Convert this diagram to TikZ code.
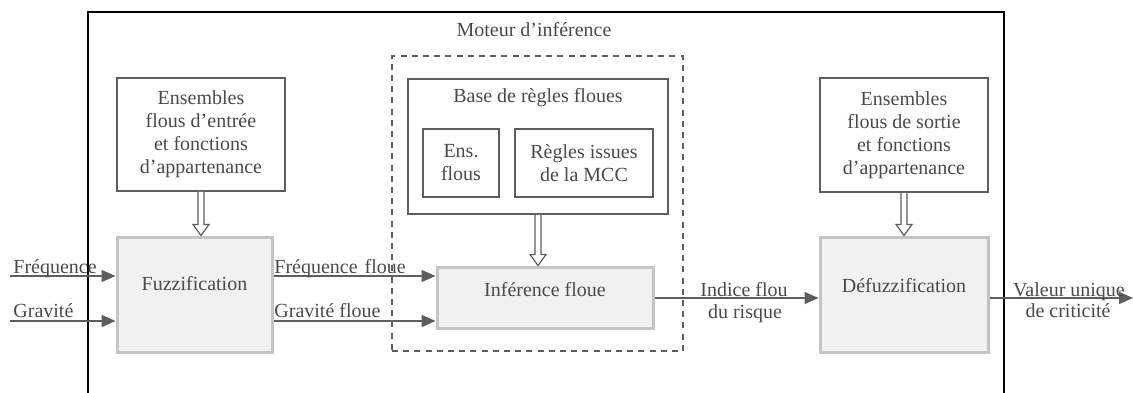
\documentclass[tikz,border=0pt]{standalone}
\usepackage{fontspec}
\setmainfont{Liberation Serif}
\usetikzlibrary{arrows.meta,calc}
\definecolor{txtc}{HTML}{4A4A4A}
\definecolor{linec}{HTML}{5E5E5E}
\definecolor{grayb}{HTML}{C4C4C4}
\definecolor{grayf}{HTML}{F1F1F1}
\newcommand{\hollowarrow}[2]{%
  \draw[hollow] ($(#1)+(-3,0)$) -- ($(#2)+(-3,-11)$) -- ($(#2)+(-8,-11)$) -- (#2)
    -- ($(#2)+(8,-11)$) -- ($(#2)+(3,-11)$) -- ($(#1)+(3,0)$);}
\begin{document}
\begin{tikzpicture}[x=0.5pt,y=-0.5pt,
  every node/.style={font=\fontsize{10}{11.5}\selectfont, text=txtc},
  thinbox/.style={draw=linec, line width=0.75pt, fill=white, inner sep=0pt, align=center},
  graybox/.style={draw=grayb, line width=1.5pt, fill=grayf, inner sep=0pt},
  dashbox/.style={draw=linec, line width=0.75pt, dash pattern=on 3pt off 2.6pt, inner sep=0pt},
  flow/.style={draw=linec, line width=0.8pt, -{Triangle[length=7pt,width=6pt]}, color=linec},
  hollow/.style={draw=linec, line width=0.6pt, fill=white, line join=miter},
  lbl/.style={inner sep=0pt, align=center}]
\clip (0,0) rectangle (1133,392);
\useasboundingbox (0,0) rectangle (1133,392);
% outer frame
\node[draw=black, line width=1pt, minimum width=458pt, minimum height=200pt, anchor=north west, inner sep=0pt] (frame) at (87,11) {};
% title
\node[lbl] (mtitle) at (534,30) {Moteur d’inférence};
% dashed inference engine box
\node[dashbox, minimum width=145.5pt, minimum height=147.5pt] (engine) at (537.5,203.5) {};
% input sets
\node[thinbox, minimum width=84pt, minimum height=56.5pt] (inset) at (201,134.5) {Ensembles\\flous d’entrée\\et fonctions\\d’appartenance};
% output sets
\node[thinbox, minimum width=84pt, minimum height=57pt] (outset) at (904,135) {Ensembles\\flous de sortie\\et fonctions\\d’appartenance};
% rule base
\node[thinbox, minimum width=130pt, minimum height=67.5pt] (base) at (538,146.5) {};
\node[lbl] (basetitle) at (538,98) {Base de règles floues};
\node[thinbox, minimum width=38pt, minimum height=34pt] (ens) at (461,163) {Ens.\\flous};
\node[thinbox, minimum width=69pt, minimum height=34pt] (regles) at (584,163) {Règles issues\\de la MCC};
% gray process boxes
\node[graybox, minimum width=77.5pt, minimum height=57.5pt] (fuzz) at (194.5,294.5) {};
\node[lbl] (fuzzt) at (194.5,284) {Fuzzification};
\node[graybox, minimum width=108pt, minimum height=30.5pt] (inf) at (545,297.5) {};
\node[lbl] (inft) at (545,290) {Inférence floue};
\node[graybox, minimum width=84pt, minimum height=57.5pt] (defuzz) at (904,294.5) {};
\node[lbl] (defuzzt) at (904,286) {Défuzzification};
% hollow arrows
\coordinate (a1) at (inset.south |- fuzz.north);
\hollowarrow{inset.south}{a1}
\coordinate (a2) at (base.south |- inf.north);
\hollowarrow{base.south}{a2}
\coordinate (a3) at (outset.south |- defuzz.north);
\hollowarrow{outset.south}{a3}
% inputs
\coordinate (fqin) at (10,276);
\coordinate (grin) at (10,321);
\draw[flow] (fqin) -- (fqin -| fuzz.west);
\draw[flow] (grin) -- (grin -| fuzz.west);
\coordinate (fqout) at (fuzz.east |- fqin);
\coordinate (grout) at (fuzz.east |- grin);
\draw[flow] (fqout) -- (fqout -| inf.west);
\draw[flow] (grout) -- (grout -| inf.west);
\coordinate (ind) at (inf.east |- 0,298);
\draw[flow] (ind) -- (ind -| defuzz.west);
\coordinate (outv) at (defuzz.east |- 0,298);
\coordinate (outend) at (1133,298);
\draw[flow] (outv) -- (outend);
% labels
\node[lbl, anchor=base west] (lfq) at (13,273) {Fréquence};
\node[lbl, anchor=base west] (lgr) at (13,317) {Gravité};
\node[lbl, anchor=base west] (lfqf) at (274,273) {Fréquence\hspace{3.5pt}floue};
\node[lbl, anchor=base west] (lgrf) at (274,317) {Gravité floue};
\node[lbl, anchor=base] (lind1) at (744,296) {Indice flou};
\node[lbl, anchor=base] (lind2) at (745,318) {du\hspace{2.5pt}risque};
\node[lbl, anchor=base] (lval1) at (1069,296) {Valeur unique};
\node[lbl, anchor=base] (lval2) at (1068,317) {de criticité};
\end{tikzpicture}
\end{document}
